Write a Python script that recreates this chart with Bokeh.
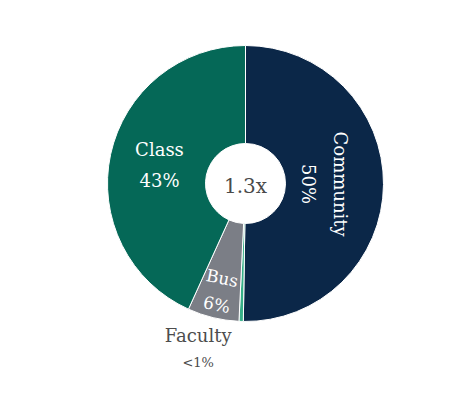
import numpy as np
from bokeh.plotting import figure
from bokeh.models import ColumnDataSource
from bokeh.core.properties import value
from bokeh.embed import file_html
from bokeh.resources import INLINE

# ---- data ----
categories = ["Community", "Faculty", "Bus", "Class"]
shares = [50.0, 0.5, 6.0, 43.0]
pct_labels = ["50%", "<1%", "6%", "43%"]
center_label = "1.3x"
colors = ["#0b2748", "#36b088", "#7b7e86", "#056857"]

W, H = 460, 382
cx, cy = 245, 199
r_in, r_out = 40, 138

vals = np.array(shares, dtype=float)
frac = vals / vals.sum()
cum = np.concatenate([[0.0], np.cumsum(frac)])
start = np.pi / 2 - cum[:-1] * 2 * np.pi
end = np.pi / 2 - cum[1:] * 2 * np.pi
mid = (start + end) / 2

p = figure(width=W, height=H, x_range=(0, W), y_range=(0, H),
           output_backend="svg", toolbar_location=None,
           x_axis_type=None, y_axis_type=None, min_border=0)
p.outline_line_color = None
p.grid.visible = False
p.background_fill_color = "white"

src = ColumnDataSource(dict(start=start, end=end, color=colors, cat=categories))
p.annular_wedge(x=cx, y=cy, inner_radius=r_in, outer_radius=r_out,
                start_angle="start", end_angle="end", direction="clock",
                fill_color="color", line_color="white", line_width=1, source=src)

font = value("DejaVu Serif")

# center text
p.text(x=[cx], y=[cy - 2], text=[center_label], text_font=font,
       text_font_size="20px", text_color="#4a4a4a",
       text_align="center", text_baseline="middle")

# label placement radii (styling)
label_r = [79, 168, 111, 88]
angles = [-np.pi / 2, 0.0, -0.2, 0.0]
sizes = ["18px", "18px", "17px", "18px"]
line_h = [1.5, 1.6, 1.35, 1.5]

for i, cat in enumerate(categories):
    lx = cx + label_r[i] * np.cos(mid[i])
    ly = cy + label_r[i] * np.sin(mid[i])
    if cat == "Faculty":
        lx -= 42
        p.text(x=[lx], y=[ly + 16], text=[cat], text_font=font,
               text_font_size="18px", text_color="#4d4d4d",
               text_align="center", text_baseline="middle")
        p.text(x=[lx], y=[ly - 11], text=[pct_labels[i]], text_font=font,
               text_font_size="13px", text_color="#4d4d4d",
               text_align="center", text_baseline="middle")
    else:
        p.text(x=[lx], y=[ly], text=[cat + "\n" + pct_labels[i]], text_font=font,
               text_font_size=sizes[i], text_color="white",
               text_align="center", text_baseline="middle",
               text_line_height=line_h[i], angle=angles[i])

open("out.html", "w").write(file_html(p, INLINE))
